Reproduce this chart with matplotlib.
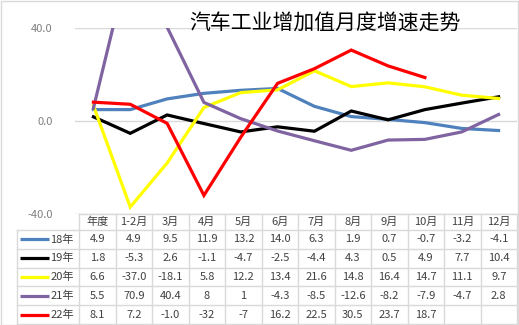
import matplotlib
matplotlib.use("Agg")
import matplotlib.pyplot as plt
from matplotlib.patches import Rectangle
import numpy as np

plt.rcParams['font.family'] = ['Noto Sans CJK SC', 'DejaVu Sans']

title = "汽车工业增加值月度增速走势"
categories = ["年度", "1-2月", "3月", "4月", "5月", "6月", "7月", "8月", "9月", "10月", "11月", "12月"]
series_names = ["18年", "19年", "20年", "21年", "22年"]
colors = ["#4F81BD", "#000000", "#FFFF00", "#8064A2", "#FF0000"]

s18 = [4.9, 4.9, 9.5, 11.9, 13.2, 14.0, 6.3, 1.9, 0.7, -0.7, -3.2, -4.1]
s19 = [1.8, -5.3, 2.6, -1.1, -4.7, -2.5, -4.4, 4.3, 0.5, 4.9, 7.7, 10.4]
s20 = [6.6, -37.0, -18.1, 5.8, 12.2, 13.4, 21.6, 14.8, 16.4, 14.7, 11.1, 9.7]
s21 = [5.5, 70.9, 40.4, 8, 1, -4.3, -8.5, -12.6, -8.2, -7.9, -4.7, 2.8]
s22 = [8.1, 7.2, -1.0, -32, -7, 16.2, 22.5, 30.5, 23.7, 18.7, None, None]

labels18 = ["4.9", "4.9", "9.5", "11.9", "13.2", "14.0", "6.3", "1.9", "0.7", "-0.7", "-3.2", "-4.1"]
labels19 = ["1.8", "-5.3", "2.6", "-1.1", "-4.7", "-2.5", "-4.4", "4.3", "0.5", "4.9", "7.7", "10.4"]
labels20 = ["6.6", "-37.0", "-18.1", "5.8", "12.2", "13.4", "21.6", "14.8", "16.4", "14.7", "11.1", "9.7"]
labels21 = ["5.5", "70.9", "40.4", "8", "1", "-4.3", "-8.5", "-12.6", "-8.2", "-7.9", "-4.7", "2.8"]
labels22 = ["8.1", "7.2", "-1.0", "-32", "-7", "16.2", "22.5", "30.5", "23.7", "18.7", "", ""]

yticks = [-40, 0, 40]
ytick_labels = ["-40.0", "0.0", "40.0"]

series = [s18, s19, s20, s21, s22]
labels = [labels18, labels19, labels20, labels21, labels22]

W, H = 519, 325
fig = plt.figure(figsize=(W / 100, H / 100), dpi=100)

def px_axes(left, top, right, bottom):
    return fig.add_axes([left / W, 1 - bottom / H, (right - left) / W, (bottom - top) / H])

# outer frame of the chart area
fig.add_artist(Rectangle((0.5 / W, 0.5 / H), 1 - 1.5 / W, 1 - 1.5 / H, transform=fig.transFigure,
                         fill=False, edgecolor="#D9D9D9", lw=1))

# plot area
ax = px_axes(75, 28, 517, 214)
ax.set_xlim(-0.5, len(categories) - 0.5)
ax.set_ylim(-40, 40)
for s in ax.spines.values():
    s.set_visible(False)
ax.set_xticks([])
ax.set_yticks(yticks)
ax.set_yticklabels(ytick_labels, color="#7F7F7F", fontsize=8)
ax.tick_params(axis="y", length=0, pad=16)
for y in yticks:
    ax.axhline(y, color="#D9D9D9", lw=1, zorder=0)

x = np.arange(len(categories))
for vals, c in zip(series, colors):
    v = np.array([np.nan if t is None else t for t in vals], dtype=float)
    ax.plot(x, v, color=c, lw=2.3, solid_joinstyle="miter", zorder=3)

fig.text(325 / W, 1 - 23 / H, title, ha="center", va="center", fontsize=15, color="#000000")

# data table under the plot, columns aligned with the categories
lab_w = 58 / 34.0
tax = px_axes(17, 214, 517, 324)
x0 = -0.5 - lab_w
tax.set_xlim(x0, len(categories) - 0.5)
head_h = 16
row_h = 18.8
total_h = head_h + row_h * len(series_names)
tax.set_ylim(total_h, 0)
tax.axis("off")

grid_c = "#D9D9D9"
txt_c = "#404040"
# horizontal rules
tax.plot([-0.5, len(categories) - 0.5], [0, 0], color=grid_c, lw=1, clip_on=False)
for r in range(len(series_names) + 1):
    yy = head_h + r * row_h
    tax.plot([x0, len(categories) - 0.5], [yy, yy], color=grid_c, lw=1, clip_on=False)
# vertical rules
tax.plot([x0, x0], [head_h, total_h], color=grid_c, lw=1, clip_on=False)
for cidx in range(len(categories) + 1):
    xx = cidx - 0.5
    tax.plot([xx, xx], [0, total_h], color=grid_c, lw=1, clip_on=False)

for i, cat in enumerate(categories):
    tax.text(i, head_h / 2, cat, ha="center", va="center", fontsize=8, color=txt_c)

for r, (name, c, labs) in enumerate(zip(series_names, colors, labels)):
    yc = head_h + (r + 0.5) * row_h
    tax.plot([x0 + 3 / 34, x0 + 30 / 34], [yc, yc], color=c, lw=2.3, solid_capstyle="butt", clip_on=False)
    tax.text(x0 + 31 / 34, yc, name, ha="left", va="center", fontsize=8, color=txt_c)
    for i, s in enumerate(labs):
        tax.text(i, yc, s, ha="center", va="center", fontsize=8, color=txt_c)

fig.savefig("out.png", dpi=100)
